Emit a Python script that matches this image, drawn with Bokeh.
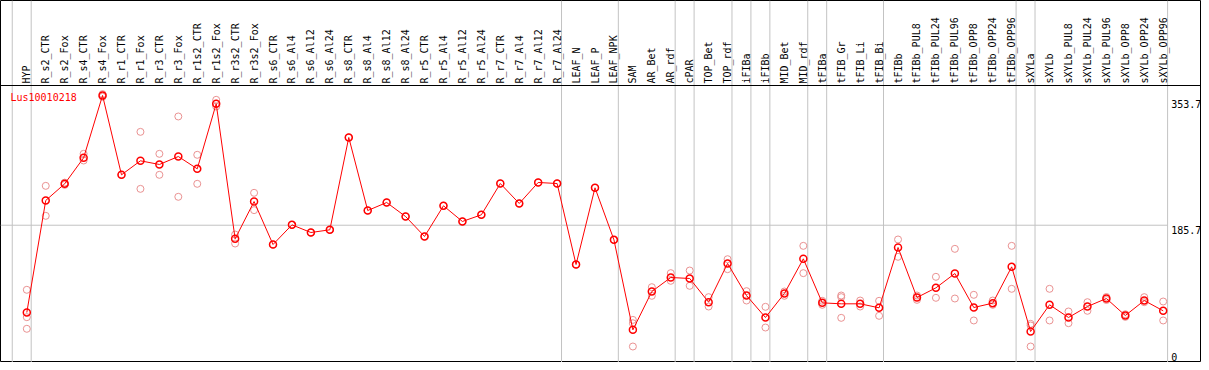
import math
from bokeh.plotting import figure
from bokeh.models import Range1d, Span, Label
from bokeh.core.properties import value
from bokeh.embed import file_html
from bokeh.resources import INLINE

# ---------------- data ----------------
gene_id = "Lus10010218"

categories = [
    "HYP", "R_s2_CTR", "R_s2_Fox", "R_s4_CTR", "R_s4_Fox", "R_r1_CTR", "R_r1_Fox",
    "R_r3_CTR", "R_r3_Fox", "R_r1s2_CTR", "R_r1s2_Fox", "R_r3s2_CTR", "R_r3s2_Fox",
    "R_s6_CTR", "R_s6_Al4", "R_s6_Al12", "R_s6_Al24", "R_s8_CTR", "R_s8_Al4",
    "R_s8_Al12", "R_s8_Al24", "R_r5_CTR", "R_r5_Al4", "R_r5_Al12", "R_r5_Al24",
    "R_r7_CTR", "R_r7_Al4", "R_r7_Al12", "R_r7_Al24", "LEAF_N", "LEAF_P", "LEAF_NPK",
    "SAM", "AR_Bet", "AR_rdf", "cPAR", "TOP_Bet", "TOP_rdf", "iFIBa", "iFIBb",
    "MID_Bet", "MID_rdf", "tFIBa", "tFIB_Gr", "tFIB_Li", "tFIB_Bi", "tFIBb",
    "tFIBb_PUL8", "tFIBb_PUL24", "tFIBb_PUL96", "tFIBb_OPP8", "tFIBb_OPP24",
    "tFIBb_OPP96", "sXYLa", "sXYLb", "sXYLb_PUL8", "sXYLb_PUL24", "sXYLb_PUL96",
    "sXYLb_OPP8", "sXYLb_OPP24", "sXYLb_OPP96",
]

# number of consecutive categories in each tissue group (separated by grey lines)
group_sizes = [1, 28, 3, 3, 1, 2, 1, 1, 2, 1, 3, 7, 1, 7]

means = [
    69.3, 218.7, 240.9, 275.6, 358.7, 252.9, 271.6, 266.7, 277.3, 260.9, 347.6,
    167.6, 217.3, 160.0, 186.2, 176.0, 179.6, 302.7, 205.3, 216.0, 197.3, 170.7,
    211.6, 190.7, 199.6, 241.3, 214.7, 242.7, 241.3, 133.3, 235.6, 166.2,
    46.2, 97.3, 116.0, 114.7, 83.1, 134.7, 92.0, 62.7, 94.7, 140.9, 82.2, 80.9,
    80.9, 75.6, 156.0, 89.3, 102.2, 121.3, 76.0, 81.8, 130.2, 44.0, 79.6, 62.7,
    77.3, 88.0, 65.3, 85.3, 71.6,
]

replicates = [
    [99.6, 63.1, 47.6], [238.2, 198.2], [242.5, 239.5], [280.9, 272.0],
    [360.5, 357.0], [252.9], [310.2, 234.2], [280.9, 252.9], [330.7, 223.6],
    [279.6, 240.9], [352.9, 344.0], [173.3, 161.3], [228.9, 205.8],
    [160.0], [186.2], [176.0], [179.6], [302.7], [205.3], [216.0], [197.3],
    [170.7], [211.6], [190.7], [199.6], [241.3], [214.7], [242.7], [241.3],
    [133.3], [235.6], [166.2],
    [59.5, 55.0, 24.0], [103.1, 91.6], [121.8, 111.6], [125.3, 104.9],
    [89.8, 77.3], [140.4, 127.1], [97.8, 85.3], [76.9, 49.3], [97.3, 91.6],
    [158.2, 121.8], [84.9, 79.6], [92.0, 89.8, 62.2], [85.3, 77.3],
    [84.9, 64.9], [166.7, 143.6], [92.0, 86.2], [116.9, 88.9], [154.2, 88.0],
    [92.9, 58.7], [85.3, 79.6], [158.2, 100.9], [54.2, 52.0, 24.0],
    [100.9, 58.7], [70.7, 55.1], [83.1, 71.6], [90.0, 86.0], [67.0, 63.5],
    [89.8, 83.1], [84.0, 58.7],
]

y_ticks = [0, 185.7, 353.7]

# ---------------- layout (pixels, from figure top-left) ----------------
W, H = 1201, 362
PX_PER_CAT = 18.94
FIRST_CAT_PX = 26.3      # first category centre
PX_PER_UNIT = 0.75       # vertical pixels per expression unit
ZERO_PX = 364.0          # where value 0 falls
HEADER_PX = 85.0         # separator line under the labels
SEP_SHIFT_PX = 4.4       # grey group line, right of last category of a group
TICK_GAP_PX = 3.6
GENE_LABEL_PX = (10.0, 97.0)
FONT = "DejaVu Sans Mono"

x_start = -FIRST_CAT_PX / PX_PER_CAT
x_end = x_start + W / PX_PER_CAT
y_end = ZERO_PX / PX_PER_UNIT
y_start = y_end - H / PX_PER_UNIT
header_y = (ZERO_PX - HEADER_PX) / PX_PER_UNIT

idx = list(range(len(categories)))

p = figure(width=W, height=H, x_range=Range1d(x_start, x_end),
           y_range=Range1d(y_start, y_end), output_backend="svg",
           toolbar_location=None, tools="", min_border=0,
           x_axis_location=None, y_axis_location=None)
p.grid.visible = False
p.outline_line_color = "black"
p.outline_line_width = 1
p.background_fill_color = "white"
p.border_fill_color = "white"

# grey group separators
sep_x = [-1 + SEP_SHIFT_PX / PX_PER_CAT]
acc = 0
for g in group_sizes:
    acc += g
    sep_x.append(acc - 1 + SEP_SHIFT_PX / PX_PER_CAT)
p.segment(x0=sep_x, y0=[y_start] * len(sep_x), x1=sep_x, y1=[y_end] * len(sep_x),
          line_color="#c3c3c3", line_width=1)

# horizontal grid line at the middle tick
mid_ticks = [t for t in y_ticks if 0 < t < max(y_ticks)]
p.segment(x0=[x_start] * len(mid_ticks), y0=mid_ticks,
          x1=[sep_x[-1]] * len(mid_ticks), y1=mid_ticks,
          line_color="#c3c3c3", line_width=1)

# header separator line
p.add_layout(Span(location=header_y, dimension="width", line_color="black",
                  line_width=1))

# category labels (vertical)
p.text(x=idx, y=[header_y] * len(idx), text=categories, angle=math.pi / 2,
       text_align="left", text_baseline="alphabetic", y_offset=-2,
       text_font=value(FONT), text_font_size="10px", text_color="black")

# y tick labels on the right
tick_x = sep_x[-1] + TICK_GAP_PX / PX_PER_CAT
top_ticks = [t for t in y_ticks if t > 0]
low_ticks = [t for t in y_ticks if t <= 0]
p.text(x=[tick_x] * len(top_ticks), y=top_ticks, text=[f"{t:g}" for t in top_ticks],
       text_align="left", text_baseline="top", y_offset=1,
       text_font=value(FONT), text_font_size="10px", text_color="black")
p.text(x=[tick_x] * len(low_ticks), y=[max(t, y_start) for t in low_ticks],
       text=[f"{t:g}" for t in low_ticks],
       text_align="left", text_baseline="bottom", y_offset=-2,
       text_font=value(FONT), text_font_size="10px", text_color="black")

# replicates
rx = [i for i, reps in enumerate(replicates) for _ in reps]
ry = [v for reps in replicates for v in reps]
p.scatter(rx, ry, marker="circle", size=7, fill_color=None,
          line_color="#ea9292", line_width=1)

# mean profile
p.line(idx, means, line_color="red", line_width=1)
p.scatter(idx, means, marker="circle", size=7, fill_color=None,
          line_color="red", line_width=1.5)

# gene id label
p.add_layout(Label(x=x_start + GENE_LABEL_PX[0] / PX_PER_CAT,
                   y=(ZERO_PX - GENE_LABEL_PX[1]) / PX_PER_UNIT,
                   text=gene_id, text_color="red", text_font=FONT,
                   text_font_size="10px", text_baseline="middle"))

open("out.html", "w").write(file_html(p, INLINE))
